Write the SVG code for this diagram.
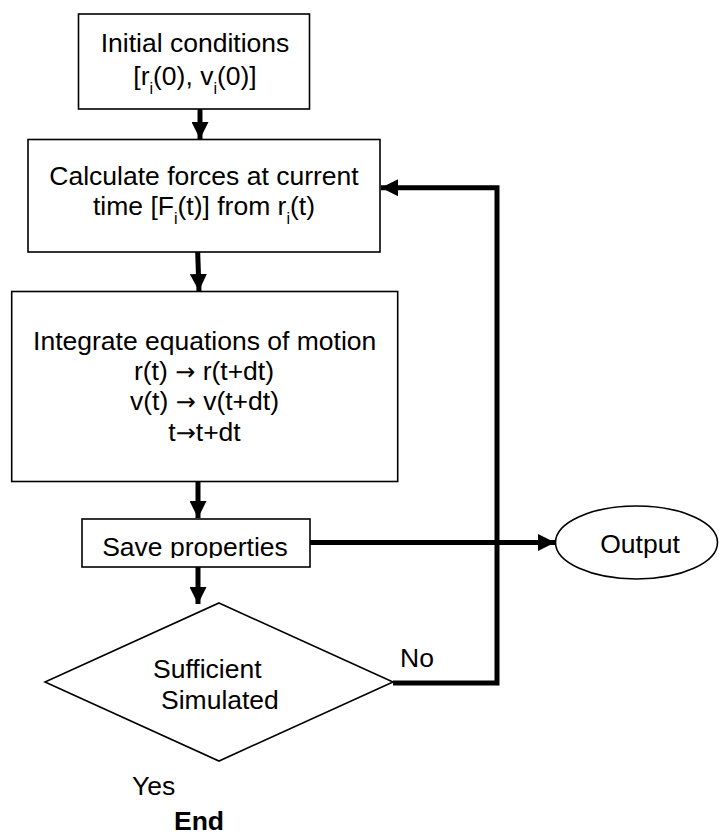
<svg xmlns="http://www.w3.org/2000/svg" width="719" height="835" viewBox="0 0 719 835">
<style>
.box{fill:#fff;stroke:#000;stroke-width:1.6}
.t{font-family:"Liberation Sans",Arial,sans-serif;font-size:26.5px;fill:#000}
.m{text-anchor:middle}
.sub{font-size:16px}
.ar{font-family:"DejaVu Sans",sans-serif;font-size:24px}
.b{font-weight:bold}
.c{fill:none;stroke:#000;stroke-width:5;stroke-linejoin:miter}
</style>
<defs>
<marker id="ah" viewBox="0 0 10 10" refX="10" refY="5" markerWidth="3.4" markerHeight="3.4" orient="auto" markerUnits="strokeWidth">
<path d="M0,0 L10,5 L0,10 z" fill="#000"/>
</marker>
<clipPath id="saveclip"><rect x="82" y="519" width="228" height="39"/></clipPath>
</defs>
<g id="n1">
<rect class="box" x="78.5" y="14" width="231" height="95"/>
<text class="t m" x="195" y="52">Initial conditions</text>
<text class="t m" x="195" y="85">[r<tspan class="sub" dy="9">i</tspan><tspan dy="-9">(0), v</tspan><tspan class="sub" dy="9">i</tspan><tspan dy="-9">(0)]</tspan></text>
</g>
<g id="n2">
<rect class="box" x="28" y="139.5" width="352" height="112.5"/>
<text class="t m" x="204" y="185">Calculate forces at current</text>
<text class="t m" x="204" y="215">time [F<tspan class="sub" dy="9">i</tspan><tspan dy="-9">(t)] from r</tspan><tspan class="sub" dy="9">i</tspan><tspan dy="-9">(t)</tspan></text>
</g>
<g id="n3">
<rect class="box" x="11.7" y="291.5" width="386" height="190"/>
<text class="t m" x="204.7" y="350">Integrate equations of motion</text>
<text class="t m" x="204" y="380">r(t) <tspan class="ar">→</tspan> r(t+dt)</text>
<text class="t m" x="204.5" y="410">v(t) <tspan class="ar">→</tspan> v(t+dt)</text>
<text class="t m" x="204.5" y="441">t<tspan class="ar">→</tspan>t+dt</text>
</g>
<g id="n4">
<rect class="box" x="82" y="519" width="228" height="48"/>
<text class="t m" x="195" y="556" clip-path="url(#saveclip)">Save properties</text>
</g>
<g id="n5">
<ellipse class="box" cx="636.5" cy="542.5" rx="81" ry="36.5"/>
<text class="t m" x="640" y="553">Output</text>
</g>
<g id="n6">
<polygon class="box" points="219,603 393,682 219,761 45,682"/>
<text class="t" x="153" y="678">Sufficient</text>
<text class="t" x="161" y="709">Simulated</text>
</g>
<g id="labels">
<text class="t" x="400" y="667">No</text>
<text class="t" x="132" y="795">Yes</text>
<text class="t b" x="174" y="830">End</text>
</g>
<g id="connectors">
<line class="c" x1="200" y1="109" x2="200" y2="139" marker-end="url(#ah)"/>
<line class="c" x1="197.7" y1="252" x2="199" y2="291" marker-end="url(#ah)"/>
<line class="c" x1="198" y1="482" x2="198" y2="518" marker-end="url(#ah)"/>
<line class="c" x1="198" y1="567" x2="198" y2="604" marker-end="url(#ah)"/>
<line class="c" x1="310" y1="542.5" x2="555" y2="542.5" marker-end="url(#ah)"/>
<polyline class="c" points="393,683 497,683 497,187.7 381,187.7" marker-end="url(#ah)"/>
</g>
</svg>
